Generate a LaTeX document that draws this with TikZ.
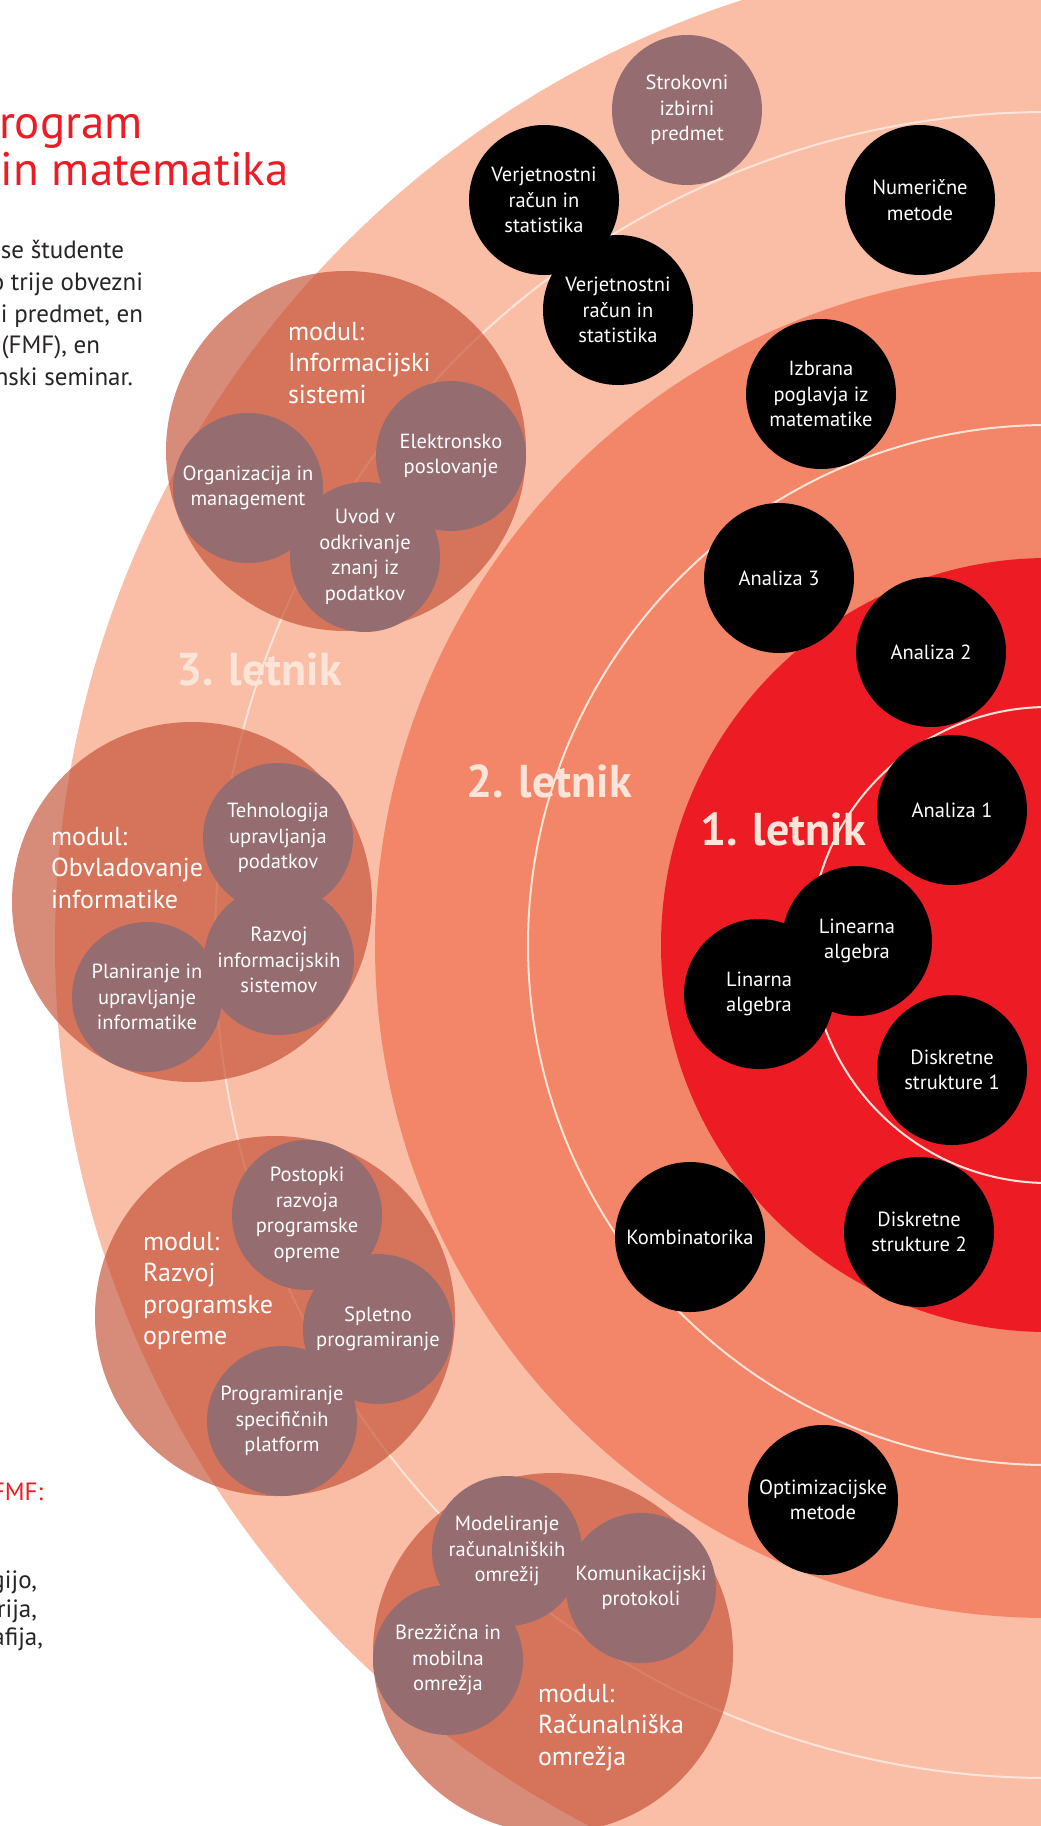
\documentclass[tikz,border=0pt]{standalone}
\usepackage{fontspec}
\setmainfont{PT Sans}
\definecolor{ringouter}{RGB}{249,190,165}
\definecolor{ringmid}{RGB}{243,133,104}
\definecolor{ringinner}{RGB}{237,28,36}
\definecolor{guideline}{RGB}{253,228,216}
\definecolor{modulered}{RGB}{195,77,50}
\definecolor{coursegray}{RGB}{149,108,112}
\definecolor{yeartext}{RGB}{253,228,216}
\definecolor{titlered}{RGB}{237,28,36}
\definecolor{bodytext}{RGB}{40,36,37}
\begin{document}
\begin{tikzpicture}[x=1pt,y=-1pt,
  every node/.style={inner sep=0pt, outer sep=0pt},
  course/.style={circle, minimum size=150pt, align=center, text=white,
    font=\fontsize{20.5}{25.5}\selectfont},
  core/.style={course, fill=black},
  elective/.style={course, fill=coursegray},
  module/.style={circle, minimum size=360pt, fill=modulered, fill opacity=0.65},
  % multi-line titles: the base anchor sits on the last line
  modtitle/.style={anchor=base west, align=left, text=white,
    font=\fontsize{26}{31.5}\selectfont},
  year/.style={anchor=base west, text=yeartext,
    font=\fontsize{46}{50}\selectfont\bfseries},
  guide/.style={draw=guideline, line width=2pt},
  bodyline/.style={anchor=base east, text=bodytext,
    font=\fontsize{25}{32}\selectfont},
]
\useasboundingbox (0,0) rectangle (1041,1826);
\clip (0,0) rectangle (1041,1826);
\fill[white] (0,0) rectangle (1041,1826);

% concentric year rings
\coordinate (C) at (1048,945);
\fill[ringouter] (C) circle (993);
\fill[ringmid]   (C) circle (673);
\fill[ringinner] (C) circle (387);

% thin guide circles
\draw[guide] (C) circle (833);
\draw[guide] (C) circle (520);
\draw[guide] (C) circle (238);

% module discs
\node[module] (mInfo) at (346,451) {};
\node[module] (mObvl) at (192,902) {};
\node[module] (mRazv) at (275,1316) {};
\node[module] (mRacu) at (553,1653) {};

% elective courses
\node[elective] (strok) at (687,110) {Strokovni\\izbirni\\predmet};
\node[elective] (org)  at (248,488) {Organizacija in\\management};
\node[elective] (ele)  at (451,456) {Elektronsko\\poslovanje};
\node[elective] (uvod) at (365,557) {Uvod v\\odkrivanje\\znanj iz\\podatkov};
\node[elective] (teh)  at (278,838) {Tehnologija\\upravljanja\\podatkov};
\node[elective] (raz)  at (279,960) {Razvoj\\informacijskih\\sistemov};
\node[elective] (plan) at (147,997) {Planiranje in\\upravljanje\\informatike};
\node[elective] (post) at (307,1215) {Postopki\\razvoja\\programske\\opreme};
\node[elective] (sple) at (378,1329) {Spletno\\programiranje};
\node[elective] (prog) at (282,1421) {Programiranje\\specifičnih\\platform};
\node[elective] (mod)  at (507,1551) {Modeliranje\\računalniških\\omrežij};
\node[elective] (kom)  at (641,1588) {Komunikacijski\\protokoli};
\node[elective] (brez) at (448,1660) {Brezžična in\\mobilna\\omrežja};

% module titles
\node[modtitle] (tInfo) at (288,403) {modul:\\Informacijski\\sistemi};
\node[modtitle] (tObvl) at (51,908) {modul:\\Obvladovanje\\informatike};
\node[modtitle] (tRazv) at (143,1344.5) {modul:\\Razvoj\\programske\\opreme};
\node[modtitle] (tRacu) at (538,1765) {modul:\\Računalniška\\omrežja};

% compulsory courses
\node[core] (vr1)  at (544,200) {Verjetnostni\\račun in\\statistika};
\node[core] (vr2)  at (618,310) {Verjetnostni\\račun in\\statistika};
\node[core] (num)  at (920,200) {Numerične\\metode};
\node[core] (izb)  at (821,394) {Izbrana\\poglavja iz\\matematike};
\node[core] (an3)  at (779,578) {Analiza 3};
\node[core] (an2)  at (931,652) {Analiza 2};
\node[core] (an1)  at (952,810) {Analiza 1};
\node[core] (lin1) at (857,941) {Linearna\\algebra};
\node[core] (lin2) at (759,994) {Linarna\\algebra};
\node[core] (ds1)  at (952,1070) {Diskretne\\strukture 1};
\node[core] (ds2)  at (919,1232) {Diskretne\\strukture 2};
\node[core] (komb) at (690,1237) {Kombinatorika};
\node[core] (opt)  at (823,1500) {Optimizacijske\\metode};

% year labels
\node[year] (y3) at (176,685) {3. letnik};
\node[year] (y2) at (466,797) {2. letnik};
\node[year] (y1) at (700,845) {1. letnik};

% heading and side text
\node[anchor=base west, text=titlered, font=\fontsize{47}{49}\selectfont] (h1) at (-1,138) {rogram};
\node[anchor=base west, text=titlered, font=\fontsize{47}{49}\selectfont] (h2) at (1,185) {in matematika};
\node[bodyline] (b1) at (124,258) {se študente};
\node[bodyline] (b2) at (143,290) {o trije obvezni};
\node[bodyline] (b3) at (143,322) {i predmet, en};
\node[bodyline] (b4) at (100,353) {(FMF), en};
\node[bodyline] (b5) at (133,385) {nski seminar.};
\node[bodyline, text=titlered] (f1) at (43,1500) {FMF:};
\node[bodyline] (f2) at (37,1588) {gijo,};
\node[bodyline] (f3) at (37,1617) {trija,};
\node[bodyline] (f4) at (43,1645) {afija,};
\end{tikzpicture}
\end{document}
